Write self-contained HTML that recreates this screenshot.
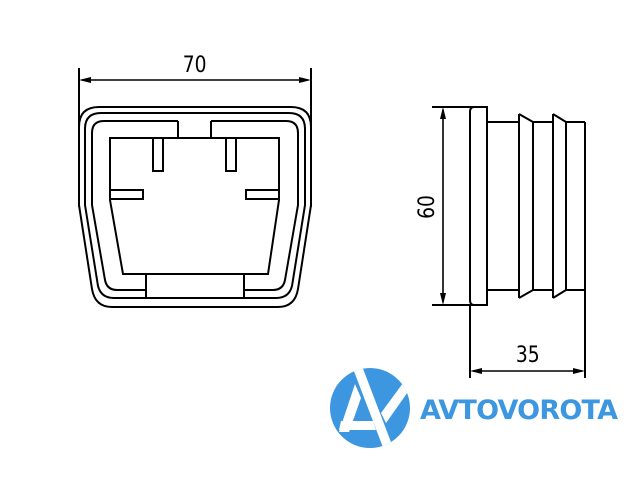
<!DOCTYPE html>
<html><head><style>
html,body{margin:0;padding:0;background:#fff;width:640px;height:480px;overflow:hidden}
svg{display:block}
text{font-family:"DejaVu Sans","Liberation Sans",sans-serif}
</style></head><body>
<svg width="640" height="480" viewBox="0 0 640 480" xmlns="http://www.w3.org/2000/svg">
<g fill="none" stroke="#000" stroke-width="2">
<line x1="79" y1="68" x2="79" y2="207"/>
<line x1="311" y1="68" x2="311" y2="207"/>
<line x1="82" y1="80" x2="308" y2="80" stroke-width="1.6"/>
<path d="M79,127 Q79,107 99,107 L291,107 Q311,107 311,127 L311,205 L298,289 Q295,307 278,307 L112,307 Q95,307 92,289 L79,205 Z"/>
<path d="M85,129 Q85,113 101,113 L289,113 Q305,113 305,129 L305,205 L292,286 Q289,298 276,298 L114,298 Q101,298 98,286 L85,205 Z"/>
<path d="M178,121 L104,121 Q92,121 92,133 L92,205 L105,280 Q107,290 117,290 L146,290"/>
<path d="M211,121 L286,121 Q298,121 298,133 L298,205 L285,280 Q283,290 273,290 L244,290"/>
<line x1="178" y1="121" x2="178" y2="138"/>
<line x1="211" y1="121" x2="211" y2="138"/>
<path d="M110,138 L279,138 L279,200 L268,274 L123,274 L110,200 Z"/>
<rect x="153" y="138" width="10" height="33"/>
<rect x="226" y="138" width="10" height="33"/>
<rect x="110" y="190" width="33" height="9"/>
<rect x="246" y="190" width="33" height="9"/>
<line x1="146" y1="274" x2="146" y2="298"/>
<line x1="244" y1="274" x2="244" y2="298"/>

<line x1="432" y1="107" x2="487" y2="107"/>
<line x1="432" y1="305" x2="487" y2="305"/>
<line x1="443" y1="110" x2="443" y2="302" stroke-width="1.6"/>
<path d="M487,107 L474,107 Q470,107 470,112 L470,300 Q470,305 474,305 L487,305 Z"/>
<path d="M487,122 L519,122 M487,290 L519,290"/>
<path d="M519,114 L533,122 L553,122 M519,298 L533,290 L553,290"/>
<line x1="519" y1="114" x2="519" y2="298"/>
<line x1="533" y1="122" x2="533" y2="290"/>
<path d="M553,114 L566,122 L585,122 M553,298 L566,290 L585,290"/>
<line x1="553" y1="114" x2="553" y2="298"/>
<line x1="566" y1="122" x2="566" y2="290"/>
<line x1="585" y1="122" x2="585" y2="378"/>
<line x1="470" y1="305" x2="470" y2="378"/>
<line x1="473" y1="371" x2="582" y2="371" stroke-width="1.6"/>
</g>
<g fill="#000">
<path d="M79,80 L91,77 L91,83 Z"/><path d="M311,80 L299,77 L299,83 Z"/>
<path d="M443,107 L440,119 L446,119 Z"/><path d="M443,305 L440,293 L446,293 Z"/>
<path d="M470,371 L482,368 L482,374 Z"/><path d="M585,371 L573,368 L573,374 Z"/>
</g>
<text x="195" y="72" font-size="22" text-anchor="middle" transform="scale(0.85,1) translate(34,0)">70</text>
<text x="528" y="362" font-size="22" text-anchor="middle" transform="translate(79,0) scale(0.85,1)">35</text>
<text font-size="22" text-anchor="middle" transform="translate(434,207) rotate(-90) scale(0.85,1)">60</text>

<defs><clipPath id="c"><circle cx="370" cy="408" r="40"/></clipPath></defs>
<circle cx="370" cy="408" r="40" fill="#3d97e0"/>
<g clip-path="url(#c)" fill="#fff">
<polygon points="352,366 362,366 394,450 384,450"/>
<polygon points="355,384 361,398 349,432 339,432"/>
<polygon points="341,421 373,421 376,430 339,430"/>
<polygon points="381,413 403,383 410,389 386,423"/>
</g>
<text x="420" y="419" font-size="27" font-weight="bold" fill="#3d97e0" font-family="Liberation Sans,sans-serif" textLength="198">AVTOVOROTA</text>
</svg>
</body></html>
